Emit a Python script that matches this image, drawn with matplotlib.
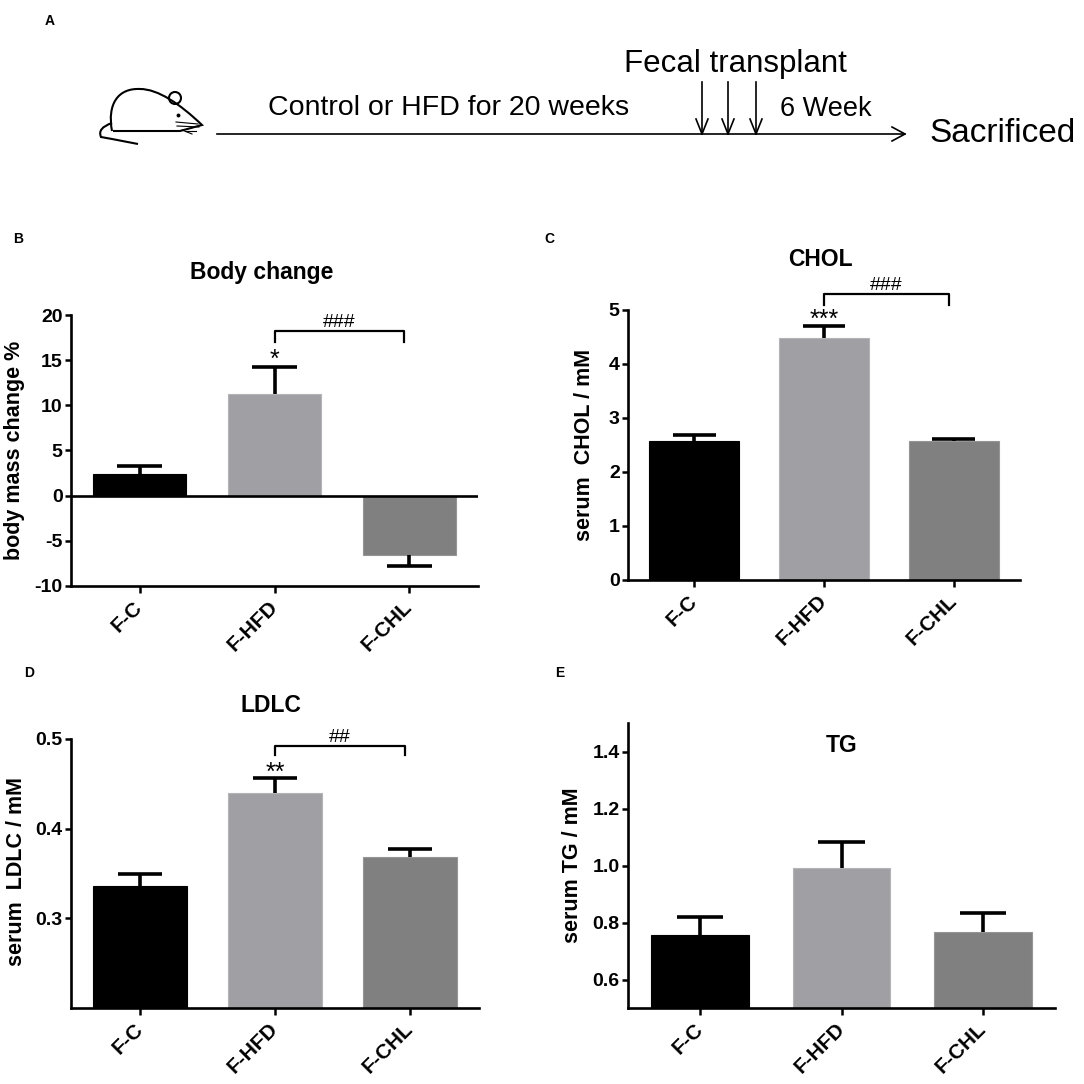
import numpy as np
import matplotlib
matplotlib.use("Agg")
import matplotlib.pyplot as plt
from matplotlib.path import Path
from matplotlib.patches import PathPatch, Circle
import matplotlib.transforms as mtransforms

plt.rcParams['font.family'] = ['Liberation Sans', 'DejaVu Sans']
plt.rcParams['axes.unicode_minus'] = False

# groups and values (mean, SEM)
groups = ['F-C', 'F-HFD', 'F-CHL']
bar_colors = ['#000000', '#a09fa4', '#808080']

body_mean = [2.4, 11.2, -6.6]
body_err = [0.9, 3.0, 1.2]

chol_mean = [2.57, 4.49, 2.58]
chol_err = [0.12, 0.21, 0.04]

ldlc_mean = [0.336, 0.440, 0.368]
ldlc_err = [0.013, 0.016, 0.009]

tg_mean = [0.755, 0.992, 0.766]
tg_err = [0.066, 0.090, 0.067]

W = 1084
fig = plt.figure(figsize=(W / 100, W / 100), dpi=100)
# pixel coordinates (origin top-left) -> figure
pix = mtransforms.Affine2D().scale(1 / W, -1 / W).translate(0, 1) + fig.transFigure


def axes_px(left, top, right, bottom):
    return fig.add_axes([left / W, 1 - bottom / W, (right - left) / W, (bottom - top) / W])


def bar_panel(ax, mean, err, ylim, yticks, fmt=None, cap=0.33):
    x = np.arange(len(groups))
    mean = np.asarray(mean)
    err = np.asarray(err)
    ax.bar(x, mean, width=0.69, color=bar_colors, edgecolor=['#000000', '#b4b4b8', '#959595'],
           linewidth=0.8, zorder=2)
    tip = np.where(mean >= 0, mean + err, mean - err)
    ax.vlines(x, mean, tip, color='black', lw=2.6, zorder=3)
    ax.hlines(tip, x - cap / 2, x + cap / 2, color='black', lw=2.6, zorder=3)
    ax.set_xlim(-0.51, 2.51)
    ax.set_ylim(*ylim)
    ax.set_yticks(yticks)
    if fmt:
        ax.set_yticklabels([fmt.format(v) for v in yticks])
    ax.set_xticks(x)
    ax.set_xticklabels(groups, rotation=45, ha='right', va='center', rotation_mode='anchor',
                       fontsize=15, fontweight='bold')
    for lab in ax.get_yticklabels():
        lab.set_fontweight('bold')
    ax.tick_params(axis='y', labelsize=14, width=1.8, length=4, pad=2)
    ax.tick_params(axis='x', width=1.8, length=5, pad=8)
    for s in ['top', 'right']:
        ax.spines[s].set_visible(False)
    for s in ['left', 'bottom']:
        ax.spines[s].set_linewidth(1.9)


def bracket(ax, y, drop, label, x0=1, x1=1.96, tx=1.48):
    ax.plot([x0, x0, x1, x1], [y - drop, y, y, y - drop], color='black', lw=1.6, clip_on=False)
    ax.text(tx, y, label, ha='center', va='bottom', fontsize=14, clip_on=False)


# ---- panel A: schematic ----
axA = fig.add_axes([0, 0, 1, 1], zorder=-1)
axA.set_xlim(0, W)
axA.set_ylim(W, 0)
axA.axis('off')

body = Path([(112, 131), (107, 104), (118, 88), (140, 89),
             (158, 89), (180, 104), (202, 125),
             (180, 131), (113, 131)],
            [Path.MOVETO, Path.CURVE4, Path.CURVE4, Path.CURVE4,
             Path.CURVE4, Path.CURVE4, Path.CURVE4,
             Path.LINETO, Path.LINETO])
axA.add_patch(PathPatch(body, fill=False, lw=1.5, color='black'))
tail = Path([(112, 123), (97, 128), (101, 137), (112, 139), (138, 144)],
            [Path.MOVETO, Path.CURVE3, Path.CURVE3, Path.LINETO, Path.LINETO])
axA.add_patch(PathPatch(tail, fill=False, lw=1.5, color='black'))
axA.add_patch(Circle((175, 98), 6, fill=False, lw=1.5, color='black'))
axA.plot([178], [115], 'o', ms=1.8, color='black')
for (xa, ya, xb, yb) in [(176, 122, 198, 124), (177, 126, 199, 127), (182, 130, 192, 134), (185, 131, 196, 131)]:
    axA.plot([xa, xb], [ya, yb], color='black', lw=0.8)

axA.plot([217, 905], [134, 134], color='black', lw=1.2)
axA.plot([892, 905, 892], [127, 134, 141], color='black', lw=1.2)
for xa in [702, 728, 756]:
    axA.plot([xa, xa], [82, 134], color='black', lw=1.2)
    axA.plot([xa - 6, xa, xa + 6], [119, 134, 119], color='black', lw=1.2)

fig.text(50, 21, 'A', transform=pix, fontsize=10, fontweight='bold', ha='center', va='center')
fig.text(449, 108, 'Control or HFD for 20 weeks', transform=pix, fontsize=20.5, ha='center', va='center')
fig.text(735, 64, 'Fecal transplant', transform=pix, fontsize=22.5, ha='center', va='center')
fig.text(826, 109, '6 Week', transform=pix, fontsize=19.5, ha='center', va='center')
fig.text(929, 134, 'Sacrificed', transform=pix, fontsize=24, ha='left', va='center')

# ---- panel B ----
axB = axes_px(71, 315, 478, 586)
bar_panel(axB, body_mean, body_err, (-10, 20), [-10, -5, 0, 5, 10, 15, 20])
axB.axhline(0, color='black', lw=1.9, zorder=4)
bracket(axB, 18.2, 1.15, '###')
axB.text(1, 13.7, '*', ha='center', va='bottom', fontsize=18)

# ---- panel C ----
axC = axes_px(628, 310, 1020, 580)
bar_panel(axC, chol_mean, chol_err, (0, 5), [0, 1, 2, 3, 4, 5])
bracket(axC, 5.29, 0.19, '###')
axC.text(1, 4.6, '***', ha='center', va='bottom', fontsize=18)

# ---- panel D ----
axD = axes_px(71, 739, 479, 1008)
bar_panel(axD, ldlc_mean, ldlc_err, (0.2, 0.5), [0.3, 0.4, 0.5], fmt='{:.1f}')
bracket(axD, 0.492, 0.010, '##')
axD.text(1, 0.449, '**', ha='center', va='bottom', fontsize=18)

# ---- panel E ----
axE = axes_px(628, 723, 1055, 1008)
bar_panel(axE, tg_mean, tg_err, (0.5, 1.5), [0.6, 0.8, 1.0, 1.2, 1.4], fmt='{:.1f}')

# titles, panel letters, y labels
titles = [('Body change', 262, 272), ('CHOL', 820, 259), ('LDLC', 271, 705), ('TG', 842, 746)]
for t, xp, yp in titles:
    fig.text(xp, yp, t, transform=pix, fontsize=16.5, fontweight='bold', ha='center', va='center')
for t, xp, yp in [('B', 18, 239), ('C', 549, 239), ('D', 29, 673), ('E', 560, 673)]:
    fig.text(xp, yp, t, transform=pix, fontsize=10, fontweight='bold', ha='center', va='center')
ylabels = [('body mass change %', 15, 450), ('serum  CHOL / mM', 584, 445),
           ('serum  LDLC / mM', 17, 871), ('serum TG / mM', 572, 865)]
for t, xp, yp in ylabels:
    fig.text(xp, yp, t, transform=pix, fontsize=15.5, fontweight='bold', ha='center', va='center',
             rotation=90)

fig.savefig('out.png', dpi=100)
